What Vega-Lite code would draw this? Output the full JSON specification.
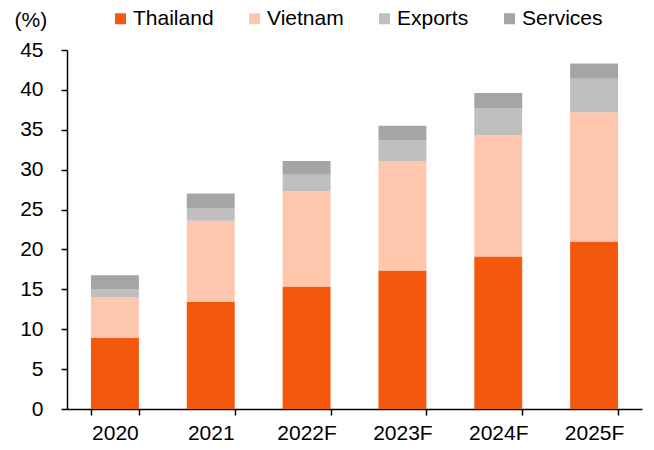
{
  "$schema": "https://vega.github.io/schema/vega-lite/v6.json",
  "width": 575,
  "height": 359,
  "autosize": {"type": "none"},
  "padding": {"left": 67, "top": 50, "right": 12, "bottom": 41},
  "background": "white",
  "config": {
    "view": {"stroke": null},
    "font": "Liberation Sans",
    "axis": {"labelFont": "Liberation Sans", "titleFont": "Liberation Sans", "labelColor": "#000000", "titleColor": "#000000"}
  },
  "data": {
    "values": [
      {"year": "2020", "segment": "Thailand", "value": 8.9},
      {"year": "2020", "segment": "Vietnam", "value": 5.15},
      {"year": "2020", "segment": "Exports", "value": 1.0},
      {"year": "2020", "segment": "Services", "value": 1.7},
      {"year": "2021", "segment": "Thailand", "value": 13.45},
      {"year": "2021", "segment": "Vietnam", "value": 10.15},
      {"year": "2021", "segment": "Exports", "value": 1.6},
      {"year": "2021", "segment": "Services", "value": 1.8},
      {"year": "2022F", "segment": "Thailand", "value": 15.35},
      {"year": "2022F", "segment": "Vietnam", "value": 11.95},
      {"year": "2022F", "segment": "Exports", "value": 2.05},
      {"year": "2022F", "segment": "Services", "value": 1.75},
      {"year": "2023F", "segment": "Thailand", "value": 17.35},
      {"year": "2023F", "segment": "Vietnam", "value": 13.75},
      {"year": "2023F", "segment": "Exports", "value": 2.6},
      {"year": "2023F", "segment": "Services", "value": 1.8},
      {"year": "2024F", "segment": "Thailand", "value": 19.1},
      {"year": "2024F", "segment": "Vietnam", "value": 15.2},
      {"year": "2024F", "segment": "Exports", "value": 3.4},
      {"year": "2024F", "segment": "Services", "value": 1.9},
      {"year": "2025F", "segment": "Thailand", "value": 21.0},
      {"year": "2025F", "segment": "Vietnam", "value": 16.2},
      {"year": "2025F", "segment": "Exports", "value": 4.2},
      {"year": "2025F", "segment": "Services", "value": 1.9}
    ]
  },
  "transform": [
    {"calculate": "indexof(['Thailand','Vietnam','Exports','Services'], datum.segment)", "as": "stackOrder"}
  ],
  "mark": {"type": "bar"},
  "encoding": {
    "x": {
      "field": "year",
      "type": "nominal",
      "sort": null,
      "scale": {"paddingInner": 0.5, "paddingOuter": 0.25},
      "axis": {
        "title": null,
        "labelAngle": 0,
        "labelFontSize": 21,
        "labelPadding": 7,
        "tickBand": "extent",
        "tickSize": 6,
        "tickWidth": 1.5,
        "tickColor": "#000000",
        "domainColor": "#000000",
        "domainWidth": 1.5
      }
    },
    "y": {
      "field": "value",
      "type": "quantitative",
      "stack": "zero",
      "scale": {"domain": [0, 45], "nice": false},
      "axis": {
        "values": [0, 5, 10, 15, 20, 25, 30, 35, 40, 45],
        "grid": false,
        "title": "(%)",
        "titleAngle": 0,
        "titleFontSize": 21,
        "titleFontWeight": "normal",
        "titleAlign": "left",
        "titleBaseline": "middle",
        "titleX": -53,
        "titleY": -30,
        "labelFontSize": 21,
        "labelPadding": 18,
        "tickSize": 6,
        "tickWidth": 1.5,
        "tickColor": "#000000",
        "domainColor": "#000000",
        "domainWidth": 1.5
      }
    },
    "color": {
      "field": "segment",
      "type": "nominal",
      "scale": {
        "domain": ["Thailand", "Vietnam", "Exports", "Services"],
        "range": ["#F4580D", "#FFC6AE", "#BFBFBF", "#A5A5A5"]
      },
      "legend": {
        "title": null,
        "orient": "none",
        "direction": "horizontal",
        "legendX": 43,
        "legendY": -42,
        "symbolType": "square",
        "symbolSize": 121,
        "symbolStrokeWidth": 0,
        "labelFontSize": 21,
        "labelFont": "Liberation Sans",
        "labelColor": "#000000",
        "labelOffset": 2,
        "columnPadding": 30
      }
    },
    "order": {"field": "stackOrder", "type": "quantitative", "sort": "ascending"}
  }
}
